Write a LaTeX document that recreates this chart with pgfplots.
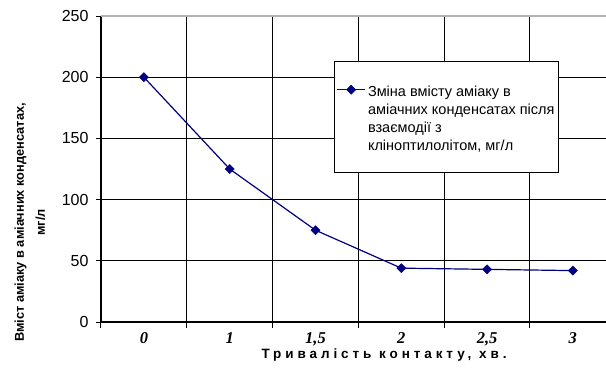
\documentclass[border=0pt]{standalone}
\usepackage{fontspec}
\setmainfont{Liberation Sans}
\newfontfamily\tnr{Liberation Serif}
\usepackage{pgfplots}
\pgfplotsset{compat=1.18}
\definecolor{navy}{RGB}{0,0,128}
\begin{document}
\begin{tikzpicture}
\useasboundingbox (-101pt,-54pt) rectangle (505pt,322pt);
\begin{axis}[
  scale only axis, width=520pt, height=306pt,
  xmin=-0.5, xmax=5.561, ymin=0, ymax=250,
  axis lines*=left,
  axis line style={black, line width=1.3pt},
  tick align=outside,
  ytick={0,50,...,200},
  extra y ticks={250},
  extra y tick style={major grid style={gray!60, line width=1.6pt}},
  ymajorgrids,
  major grid style={black, line width=1pt},
  major tick length=5pt,
  minor tick length=6pt,
  ytick style={black, line width=1pt},
  xtick={0,...,5},
  xticklabels={0,1,{1,5},2,{2,5},3},
  major x tick style={draw=none},
  minor xtick={-0.5,0.5,1.5,2.5,3.5,4.5},
  minor x tick style={black, line width=1pt},
  xminorgrids,
  minor grid style={black, line width=1pt},
  /pgf/number format/assume math mode=true,
  yticklabel style={font=\fontsize{16}{18}\selectfont, xshift=-4pt},
  xticklabel style={font=\tnr\bfseries\itshape\fontsize{16.5}{18}\selectfont, yshift=-2pt},
  xlabel={Тривалість контакту, хв.},
  xlabel style={at={(axis description cs:0.302,-0.118)}, anchor=base west,
    font=\bfseries\fontsize{13.5}{15}\selectfont\addfontfeatures{LetterSpace=29}},
  ylabel={Вміст аміаку в аміачних конденсатах,\\мг/л},
  ylabel style={at={(axis description cs:-0.137,0.325)}, anchor=center, align=center,
    font=\bfseries\fontsize{12.8}{21}\selectfont},
  legend style={at={(0.448,0.852)}, anchor=north west, draw=black, line width=0.8pt,
    font=\fontsize{14.5}{18}\selectfont, inner xsep=2pt, inner ysep=15pt,
    nodes={text depth=, anchor=base west}},
  legend image code/.code={\draw[mark repeat=2,mark phase=2,#1] plot coordinates {(0cm,6.5pt) (0.5cm,6.5pt) (1cm,6.5pt)};},
]
\addplot[navy, line width=1.2pt, mark=square*, mark options={rotate=45, fill=navy, line width=0.5pt}, mark size=3.2pt]
  coordinates {(0,200) (1,125) (2,75) (3,44) (4,43) (5,42)};
\addlegendentry{\begin{tabular}[t]{@{}l@{}}\rule{0pt}{17.5pt}Зміна вмісту аміаку в\\аміачних конденсатах після\\взаємодії з\\кліноптилолітом, мг/л\end{tabular}}
\end{axis}
\end{tikzpicture}
\end{document}
